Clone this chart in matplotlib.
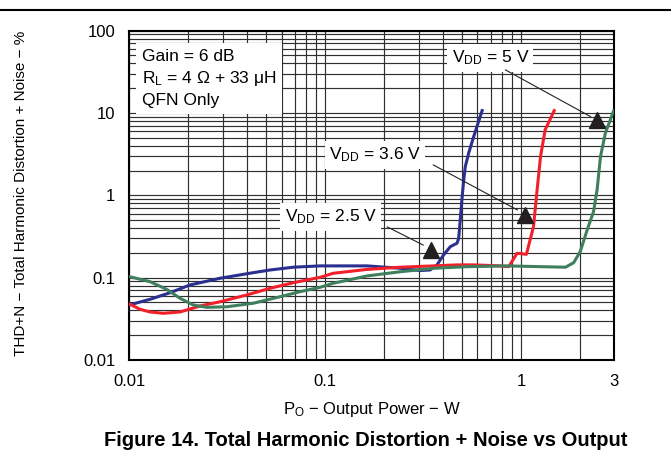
#!/usr/bin/env python3

import numpy as np
import matplotlib
matplotlib.use('Agg')
import matplotlib.pyplot as plt
from matplotlib.ticker import LogLocator, NullFormatter, FixedLocator, FixedFormatter
from matplotlib.lines import Line2D

plt.rcParams['font.family'] = ['Liberation Sans', 'DejaVu Sans']
plt.rcParams['mathtext.default'] = 'regular'
plt.rcParams['font.size'] = 12

# VDD = 2.5 V (blue)
x25 = [0.01, 0.0128, 0.0162, 0.0204, 0.0291, 0.043, 0.0524, 0.0689, 0.0944, 0.110,
       0.164, 0.242, 0.306, 0.344, 0.373, 0.403, 0.436, 0.472, 0.481, 0.49, 0.50,
       0.51, 0.52, 0.541, 0.574, 0.634]
y25 = [0.0466, 0.0547, 0.0658, 0.0815, 0.0984, 0.115, 0.124, 0.134, 0.139, 0.139,
       0.139, 0.130, 0.122, 0.124, 0.143, 0.189, 0.238, 0.262, 0.30, 0.5, 0.9,
       1.5, 2.23, 3.25, 5.16, 10.7]

# VDD = 3.6 V (red)
x36 = [0.01, 0.01134, 0.01276, 0.0149, 0.01815, 0.023, 0.0291, 0.0398, 0.0524, 0.0689,
       0.0944, 0.110, 0.164, 0.242, 0.358, 0.472, 0.574, 0.785, 0.867, 0.956, 1.067,
       1.16, 1.21, 1.26, 1.33, 1.48]
y36 = [0.048, 0.0413, 0.0383, 0.0369, 0.0383, 0.0453, 0.051, 0.0617, 0.0743, 0.0869,
       0.101, 0.113, 0.126, 0.134, 0.139, 0.143, 0.143, 0.139, 0.136, 0.198, 0.192,
       0.417, 1.16, 2.95, 6.24, 10.7]

# VDD = 5 V (green)
x50 = [0.01, 0.01276, 0.0155, 0.01815, 0.0212, 0.0249, 0.0315, 0.043, 0.0589, 0.0746,
       0.0944, 0.110, 0.164, 0.242, 0.358, 0.53, 0.85, 1.26, 1.69, 1.86, 2.01, 2.18,
       2.35, 2.45, 2.55, 2.70, 2.98]
y50 = [0.103, 0.0894, 0.0723, 0.0562, 0.0466, 0.0436, 0.0443, 0.0489, 0.0587, 0.0676,
       0.0764, 0.0855, 0.105, 0.118, 0.13, 0.136, 0.139, 0.136, 0.134, 0.152, 0.207, 0.38,
       0.634, 1.16, 2.95, 5.68, 10.7]

# Tick labels
xTicks = [0.01, 0.1, 1, 3]
xTickLabels = ['0.01', '0.1', '1', '3']
yTicks = [0.01, 0.1, 1, 10, 100]
yTickLabels = ['0.01', '0.1', '1', '10', '100']

# Callouts: label text, label position, arrow start/end, triangle position
vddLabels = ['V$_{DD}$ = 2.5 V', 'V$_{DD}$ = 3.6 V', 'V$_{DD}$ = 5 V']
labelX = [0.107, 0.180, 0.698]
labelY = [0.547, 3.1, 46.8]
arrowStartX = [0.208, 0.357, 0.834]
arrowStartY = [0.413, 2.34, 33.4]
arrowEndX = [0.317, 0.959, 2.27]
arrowEndY = [0.249, 0.665, 9.04]
triX = [0.348, 1.055, 2.455]
triY = [0.217, 0.578, 8.24]

# Plot Setup
fig = plt.figure(figsize=(6.71, 4.58), dpi=100)
ax = fig.add_axes([0.1927, 0.214, 0.7228, 0.719])
ax.set_xscale('log')
ax.set_yscale('log')
ax.set_xlim(0.01, 3)
ax.set_ylim(0.01, 100)

ax.xaxis.set_major_locator(FixedLocator(xTicks))
ax.xaxis.set_major_formatter(FixedFormatter(xTickLabels))
ax.yaxis.set_major_locator(FixedLocator(yTicks))
ax.yaxis.set_major_formatter(FixedFormatter(yTickLabels))
for axis in [ax.xaxis, ax.yaxis]:
    axis.set_minor_locator(LogLocator(base=10, subs=np.arange(2, 10)))
    axis.set_minor_formatter(NullFormatter())
ax.tick_params(which='both', length=0)
ax.tick_params(axis='x', pad=10)
ax.tick_params(axis='y', pad=10)
ax.grid(True, which='both', color='#303030', linewidth=0.85)
ax.set_axisbelow(True)
for s in ax.spines.values():
    s.set_linewidth(1.5)

# plot the data
ax.plot(x25, y25, color='#2a2f90', linewidth=2.2, zorder=3)
ax.plot(x36, y36, color='#f2202a', linewidth=2.2, zorder=3)
ax.plot(x50, y50, color='#3f7f5d', linewidth=2.2, zorder=3)

# callouts
for i in range(3):
    ax.text(labelX[i], labelY[i], vddLabels[i], ha='center', va='center', fontsize=12.5,
            zorder=4, bbox=dict(boxstyle='square,pad=0.25', fc='white', ec='none'))
    ax.plot([arrowStartX[i], arrowEndX[i]], [arrowStartY[i], arrowEndY[i]],
            color='#222222', linewidth=0.8, zorder=4)
    ax.plot(triX[i], triY[i], marker='^', markersize=12, color='#231f20', zorder=5)

ax.text(0.026, 0.943, 'Gain = 6 dB\nR$_L$ = 4 \u03a9 + 33 \u03bcH\nQFN Only',
        transform=ax.transAxes, ha='left', va='top', fontsize=12.5, linespacing=1.35,
        zorder=4, bbox=dict(boxstyle='square,pad=0.35', fc='white', ec='none'))

ax.set_xlabel('P$_O$ \u2212 Output Power \u2212 W', labelpad=8)
ax.set_ylabel('THD+N \u2212 Total Harmonic Distortion + Noise \u2212 %', fontsize=11)
ax.yaxis.set_label_coords(-0.208, 0.505)

fig.text(0.545, 1 - 440/458, 'Figure 14. Total Harmonic Distortion + Noise vs Output',
         ha='center', va='center', fontsize=14.5, fontweight='bold')
fig.add_artist(Line2D([0, 1], [1 - 10/458] * 2, color='black', linewidth=1.5))

plt.savefig('out.png', dpi=100)
plt.close()
